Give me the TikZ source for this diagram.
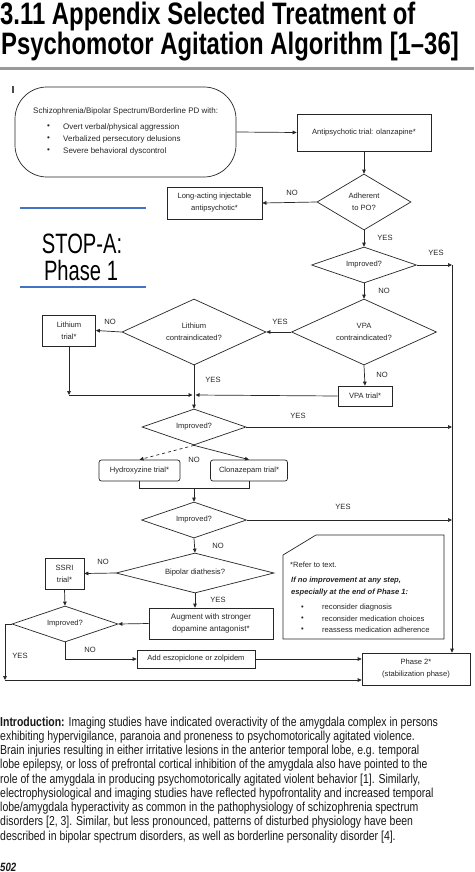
\documentclass[tikz,border=0pt]{standalone}
\usepackage{fontspec}
\setmainfont{Liberation Sans}
\newfontfamily\condfont[FakeStretch=0.805]{Liberation Sans}
\newfontfamily\titlefont[FakeStretch=0.77]{Liberation Sans}
\newfontfamily\stopfont[FakeStretch=0.72]{Liberation Sans}
\usetikzlibrary{arrows.meta,shapes.geometric}
\newcommand\dfont{\fontsize{7.6}{12}\selectfont}
\newcommand\sfontx{\fontsize{8}{12}\selectfont}
\tikzset{
  ln/.style={line width=0.7pt, draw=black!85},
  arr/.style={ln, -{Triangle[length=4pt,width=3.6pt]}},
  box/.style={ln, draw, rectangle, inner sep=0pt, font=\dfont, align=center, text=black!85},
  rbox/.style={box, rounded corners=2.5pt},
  dia/.style={ln, draw, diamond, inner sep=0pt},
  dtxt/.style={inner sep=0pt, font=\dfont, align=center, text=black!85},
  lbl/.style={inner sep=0pt, font=\dfont, text=black!85},
  body/.style={anchor=base west, inner sep=0pt, font=\condfont\fontsize{13}{14}\selectfont, text=black!90},
  ttl/.style={anchor=base west, inner sep=0pt, font=\titlefont\fontsize{31}{31}\selectfont\bfseries},
  stop/.style={anchor=base, inner sep=0pt, font=\stopfont\fontsize{28}{28}\selectfont},
  bl/.style={anchor=west, inner sep=0pt, font=\dfont, text=black!85},
  sbl/.style={bl, font=\sfontx}
}
\begin{document}
\begin{tikzpicture}[x=1pt,y=-1pt]
\useasboundingbox (0,0) rectangle (474,872);
\fill[white] (0,0) rectangle (474,872);
% title
\node[ttl] (title1) at (0,25) {3.11 Appendix Selected Treatment of};
\node[ttl] (title2) at (1,55) {Psychomotor Agitation Algorithm [1–36]};
\draw[line width=3pt, black!40] (0,69) -- (474,69);
% small mark
\draw[line width=1.2pt, black!70] (13,86) -- (13,93);
% STOP-A
\draw[line width=1.6pt, color={rgb,255:red,68;green,114;blue,196}] (20,208) -- (146,208);
\draw[line width=1.6pt, color={rgb,255:red,68;green,114;blue,196}] (20,287) -- (146,287);
\node[stop] (stopa) at (82,253) {STOP-A:};
\node[stop] (phase1) at (81,280) {Phase 1};
% start box
\node[box, rounded corners=32pt, minimum width=221pt, minimum height=90pt] (start) at (125.5,132) {};
\node[sbl] (s0) at (33,111) {Schizophrenia/Bipolar Spectrum/Borderline PD with:};
\node[sbl] (sb1) at (47,127) {•};
\node[sbl] (st1) at (63,127) {Overt verbal/physical aggression};
\node[sbl] (sb2) at (47,139) {•};
\node[sbl] (st2) at (63,139) {Verbalized persecutory delusions};
\node[sbl] (sb3) at (47,151) {•};
\node[sbl] (st3) at (63,151) {Severe behavioral dyscontrol};
% boxes
\node[box, minimum width=134pt, minimum height=37pt] (anti) at (364,132.5) {Antipsychotic trial: olanzapine*};
\node[box, minimum width=95pt, minimum height=32pt] (lai) at (214.5,203) {Long-acting injectable\\antipsychotic*};
\node[dia, minimum width=94pt, minimum height=56pt] (d1) at (364,202) {};
\node[dtxt] (d1t) at (d1) {Adherent\\to PO?};
\node[dia, minimum width=105pt, minimum height=36pt] (imp1) at (364,265) {};
\node[dtxt] (imp1t) at (imp1) {Improved?};
\node[dia, minimum width=145pt, minimum height=66pt] (vpa) at (364,332) {};
\node[dtxt] (vpat0) at (vpa) {VPA\\contraindicated?};
\node[dia, minimum width=144pt, minimum height=66pt] (li) at (194,332) {};
\node[dtxt] (lit0) at (li) {Lithium\\contraindicated?};
\node[box, minimum width=53pt, minimum height=31pt] (lit) at (69,330.5) {Lithium\\trial*};
\node[box, minimum width=54pt, minimum height=20pt] (vpat) at (365,396) {VPA trial*};
\coordinate (j1) at (194,395);
\coordinate (c2) at (69,395);
\node[dia, minimum width=104pt, minimum height=36pt] (imp2) at (194,427) {};
\node[dtxt] (imp2t) at (imp2) {Improved?};
\node[rbox, minimum width=81pt, minimum height=21pt] (hyd) at (139.5,470.5) {Hydroxyzine trial*};
\node[rbox, minimum width=77pt, minimum height=21pt] (clo) at (249,470.5) {Clonazepam trial*};
\coordinate (j2) at (194,488);
\node[dia, minimum width=105pt, minimum height=36pt] (imp3) at (194,520) {};
\node[dtxt] (imp3t) at (imp3) {Improved?};
\node[dia, minimum width=158pt, minimum height=40pt] (bip) at (195,573) {};
\node[dtxt] (bipt) at (bip) {Bipolar diathesis?};
\node[box, minimum width=39pt, minimum height=31pt] (ssri) at (64.5,573.5) {SSRI\\trial*};
\node[box, minimum width=124pt, minimum height=31pt, font=\fontsize{8}{12}\selectfont] (aug) at (211,623.5) {Augment with stronger\\dopamine antagonist*};
\node[dia, minimum width=106pt, minimum height=36pt] (imp4) at (65,624) {};
\node[dtxt] (imp4t) at (imp4) {Improved?};
\node[box, minimum width=118pt, minimum height=18pt] (add) at (196,659) {Add eszopiclone or zolpidem};
\node[box, minimum width=108pt, minimum height=32pt] (p2) at (416,669) {Phase 2*\\(stabilization phase)};
\coordinate (c1) at (452,265);
\coordinate (c3) at (5,624);
\coordinate (c4) at (5,680);
% note box
\coordinate (n1) at (316,535);
\coordinate (n2) at (444,535);
\coordinate (n3) at (444,639);
\coordinate (n4) at (283,639);
\coordinate (n5) at (283,555);
\draw[ln] (n1) -- (n2) -- (n3) -- (n4) -- (n5) -- cycle;
\node[bl] (nt1) at (290,565) {*Refer to text.};
\node[bl, font=\dfont\bfseries\itshape] (nt2) at (291,581) {If no improvement at any step,};
\node[bl, font=\dfont\bfseries\itshape] (nt3) at (291,592.5) {especially at the end of Phase 1:};
\node[bl] (nb1) at (301,608) {•};
\node[bl] (nt4) at (322,608) {reconsider diagnosis};
\node[bl] (nb2) at (301,619) {•};
\node[bl] (nt5) at (322,619) {reconsider medication choices};
\node[bl] (nb3) at (301,630) {•};
\node[bl] (nt6) at (322,630) {reassess medication adherence};
% connectors
\draw[arr] (start.east) -- (anti.west);
\draw[arr] (anti.south) -- (d1.north);
\draw[arr] (d1.west) -- (lai.east);
\draw[arr] (d1.south) -- (imp1.north);
\draw[arr] (imp1.east) -- (c1);
\draw[arr] (c1) -- (c1 |- p2.north);
\draw[arr] (imp1.south) -- (vpa.north);
\draw[arr] (vpa.west) -- (li.east);
\draw[arr] (li.west) -- (lit.east);
\draw[arr] (lit.south) -- (c2);
\draw[arr, shorten >=1.5pt] (c2) -- (j1);
\draw[ln] (li.south) -- (j1);
\draw[arr] (vpa.south) -- (vpat.north);
\draw[arr, shorten >=1.5pt] (vpat.west) -- (j1);
\draw[arr] (j1) -- (imp2.north);
\draw[arr] (imp2.east) -- (imp2.east -| c1);
\draw[arr, dashed] (imp2.south) -- (hyd.north);
\draw[arr] (imp2.south) -- (clo.north);
\draw[ln] (hyd.south) -- (hyd.south |- j2) -- (j2);
\draw[ln] (clo.south) -- (clo.south |- j2) -- (j2);
\draw[arr] (j2) -- (imp3.north);
\draw[arr] (imp3.east) -- (imp3.east -| c1);
\draw[arr] (imp3.south) -- (bip.north);
\draw[arr] (bip.west) -- (ssri.east);
\draw[arr] (bip.south) -- (bip.south |- aug.north);
\draw[arr] (ssri.south) -- (imp4.north);
\draw[arr] (aug.west) -- (imp4.east);
\draw[arr] (imp4.south) -- (imp4.south |- add.west) -- (add.west);
\draw[arr] (add.east) -- (add.east -| p2.west);
\draw[ln] (imp4.west) -- (c3);
\draw[arr] (c3) -- (c4);
\draw[arr] (c4) -- (c4 -| p2.west);
% labels
\node[lbl] (l1) at (292,193) {NO};
\node[lbl] (l2) at (385,238) {YES};
\node[lbl] (l3) at (436,253) {YES};
\node[lbl] (l4) at (384,291) {NO};
\node[lbl] (l5) at (280,322) {YES};
\node[lbl] (l6) at (110,322) {NO};
\node[lbl] (l7) at (213,380) {YES};
\node[lbl] (l8) at (382,375) {NO};
\node[lbl] (l9) at (298,416) {YES};
\node[lbl] (l10) at (194,460) {NO};
\node[lbl] (l11) at (343,507) {YES};
\node[lbl] (l12) at (218,546) {NO};
\node[lbl] (l13) at (103,562) {NO};
\node[lbl] (l14) at (218,600) {YES};
\node[lbl] (l15) at (90,650) {NO};
\node[lbl] (l16) at (20,656) {YES};
% body text
\node[body] (b1) at (0,726) {\textbf{Introduction:} Imaging studies have indicated overactivity of the amygdala complex in persons};
\node[body] (b2) at (0,740.25) {exhibiting hypervigilance, paranoia and proneness to psychomotorically agitated violence.};
\node[body] (b3) at (0,754.5) {Brain injuries resulting in either irritative lesions in the anterior temporal lobe, e.g. temporal};
\node[body] (b4) at (0,768.75) {lobe epilepsy, or loss of prefrontal cortical inhibition of the amygdala also have pointed to the};
\node[body] (b5) at (0,783) {role of the amygdala in producing psychomotorically agitated violent behavior [1]. Similarly,};
\node[body] (b6) at (0,797.25) {electrophysiological and imaging studies have reflected hypofrontality and increased temporal};
\node[body] (b7) at (0,811.5) {lobe/amygdala hyperactivity as common in the pathophysiology of schizophrenia spectrum};
\node[body] (b8) at (0,825.75) {disorders [2, 3]. Similar, but less pronounced, patterns of disturbed physiology have been};
\node[body] (b9) at (0,840) {described in bipolar spectrum disorders, as well as borderline personality disorder [4].};
\node[body, font=\condfont\fontsize{12}{12}\selectfont\bfseries\itshape] (pg) at (0,871) {502};
\end{tikzpicture}
\end{document}
